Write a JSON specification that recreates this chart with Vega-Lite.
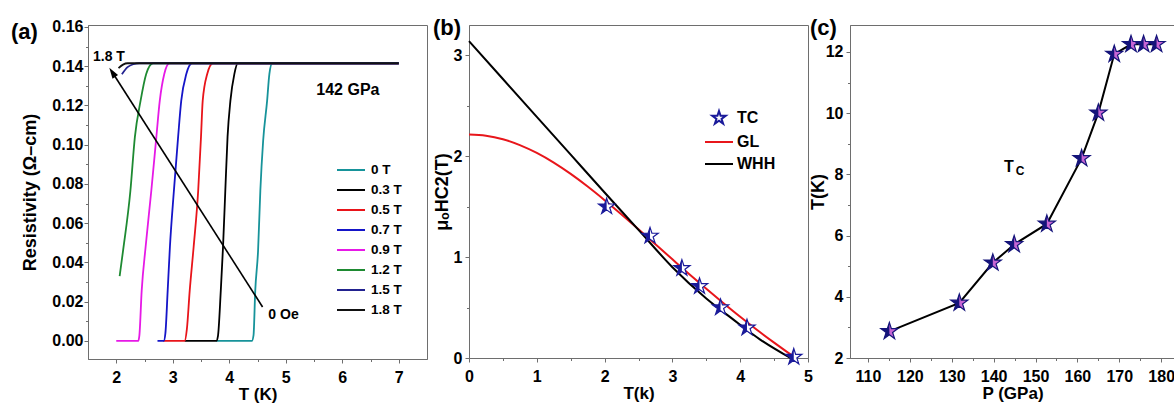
{
  "$schema": "https://vega.github.io/schema/vega-lite/v6.json",
  "background": "white",
  "padding": {"left": 10, "top": 16, "right": 0, "bottom": 0},
  "spacing": 42,
  "bounds": "flush",
  "resolve": {"scale": {"color": "independent", "shape": "independent"}, "legend": {"color": "independent", "shape": "independent"}},
  "config": {
    "font": "Liberation Sans",
    "axis": {"labelFont": "Liberation Sans", "titleFont": "Liberation Sans", "labelFontSize": 16, "labelFontWeight": "bold", "titleFontSize": 18, "titleFontWeight": "bold", "labelColor": "#000", "titleColor": "#000", "domainColor": "#6e6e6e", "tickColor": "#6e6e6e", "tickSize": 4, "labelPadding": 2, "titlePadding": 4, "grid": false, "labelFlush": false, "labelOverlap": false},
    "legend": {"labelFont": "Liberation Sans", "labelColor": "#000"},
    "title": {"font": "Liberation Sans"},
    "view": {"stroke": "#6e6e6e", "strokeWidth": 1}
  },
  "hconcat": [
    {
      "width": 339,
      "height": 334,
      "title": {"text": "(a)", "anchor": "start", "frame": "group", "orient": "top", "offset": -29, "baseline": "alphabetic", "dx": -77, "dy": 13, "fontSize": 22, "fontWeight": "bold", "color": "#000"},
      "resolve": {"axis": {"x": "independent", "y": "independent"}},
      "layer": [
        {
          "data": {"values": [
            {"B": "0 T", "T": 3.77, "R": 0}, {"B": "0 T", "T": 4.40, "R": 0}, {"B": "0 T", "T": 4.43, "R": 0.003}, {"B": "0 T", "T": 4.46, "R": 0.0255}, {"B": "0 T", "T": 4.51, "R": 0.046}, {"B": "0 T", "T": 4.55, "R": 0.0764}, {"B": "0 T", "T": 4.60, "R": 0.102}, {"B": "0 T", "T": 4.67, "R": 0.1223}, {"B": "0 T", "T": 4.71, "R": 0.136}, {"B": "0 T", "T": 4.76, "R": 0.1415}, {"B": "0 T", "T": 7.0, "R": 0.1415},
            {"B": "0.3 T", "T": 3.21, "R": 0}, {"B": "0.3 T", "T": 3.77, "R": 0}, {"B": "0.3 T", "T": 3.80, "R": 0.0025}, {"B": "0.3 T", "T": 3.85, "R": 0.0255}, {"B": "0.3 T", "T": 3.89, "R": 0.048}, {"B": "0.3 T", "T": 3.93, "R": 0.0764}, {"B": "0.3 T", "T": 3.97, "R": 0.104}, {"B": "0.3 T", "T": 4.02, "R": 0.1223}, {"B": "0.3 T", "T": 4.09, "R": 0.136}, {"B": "0.3 T", "T": 4.15, "R": 0.1415}, {"B": "0.3 T", "T": 7.0, "R": 0.1415},
            {"B": "0.5 T", "T": 2.83, "R": 0}, {"B": "0.5 T", "T": 3.21, "R": 0}, {"B": "0.5 T", "T": 3.25, "R": 0.006}, {"B": "0.5 T", "T": 3.30, "R": 0.0255}, {"B": "0.5 T", "T": 3.37, "R": 0.048}, {"B": "0.5 T", "T": 3.45, "R": 0.0764}, {"B": "0.5 T", "T": 3.50, "R": 0.104}, {"B": "0.5 T", "T": 3.53, "R": 0.1223}, {"B": "0.5 T", "T": 3.61, "R": 0.136}, {"B": "0.5 T", "T": 3.71, "R": 0.1415}, {"B": "0.5 T", "T": 7.0, "R": 0.1415},
            {"B": "0.7 T", "T": 2.73, "R": 0}, {"B": "0.7 T", "T": 2.84, "R": 0}, {"B": "0.7 T", "T": 2.87, "R": 0.004}, {"B": "0.7 T", "T": 2.91, "R": 0.0255}, {"B": "0.7 T", "T": 2.95, "R": 0.048}, {"B": "0.7 T", "T": 3.02, "R": 0.0764}, {"B": "0.7 T", "T": 3.095, "R": 0.104}, {"B": "0.7 T", "T": 3.15, "R": 0.1223}, {"B": "0.7 T", "T": 3.24, "R": 0.136}, {"B": "0.7 T", "T": 3.34, "R": 0.1415}, {"B": "0.7 T", "T": 7.0, "R": 0.1415},
            {"B": "0.9 T", "T": 2.00, "R": 0}, {"B": "0.9 T", "T": 2.39, "R": 0}, {"B": "0.9 T", "T": 2.41, "R": 0.003}, {"B": "0.9 T", "T": 2.45, "R": 0.0255}, {"B": "0.9 T", "T": 2.52, "R": 0.048}, {"B": "0.9 T", "T": 2.62, "R": 0.0764}, {"B": "0.9 T", "T": 2.71, "R": 0.104}, {"B": "0.9 T", "T": 2.77, "R": 0.1223}, {"B": "0.9 T", "T": 2.85, "R": 0.136}, {"B": "0.9 T", "T": 2.94, "R": 0.1415}, {"B": "0.9 T", "T": 7.0, "R": 0.1415},
            {"B": "1.2 T", "T": 2.06, "R": 0.033}, {"B": "1.2 T", "T": 2.12, "R": 0.0459}, {"B": "1.2 T", "T": 2.25, "R": 0.0764}, {"B": "1.2 T", "T": 2.33, "R": 0.104}, {"B": "1.2 T", "T": 2.43, "R": 0.1223}, {"B": "1.2 T", "T": 2.53, "R": 0.136}, {"B": "1.2 T", "T": 2.65, "R": 0.1415}, {"B": "1.2 T", "T": 7.0, "R": 0.1415},
            {"B": "1.5 T", "T": 2.10, "R": 0.1359}, {"B": "1.5 T", "T": 2.20, "R": 0.1395}, {"B": "1.5 T", "T": 2.30, "R": 0.141}, {"B": "1.5 T", "T": 2.41, "R": 0.1415}, {"B": "1.5 T", "T": 7.0, "R": 0.1415},
            {"B": "1.8 T", "T": 2.04, "R": 0.139}, {"B": "1.8 T", "T": 2.12, "R": 0.1408}, {"B": "1.8 T", "T": 2.20, "R": 0.1415}, {"B": "1.8 T", "T": 7.0, "R": 0.1415}
          ]},
          "mark": {"type": "line", "strokeWidth": 1.8, "interpolate": "monotone"},
          "encoding": {
            "x": {"field": "T", "type": "quantitative", "scale": {"domain": [1.5, 7.5], "nice": false, "zero": false}, "axis": {"values": [2, 3, 4, 5, 6, 7], "format": "d", "title": "T (K)", "titleFontSize": 17, "labelPadding": 6, "titlePadding": 1}},
            "y": {"field": "R", "type": "quantitative", "scale": {"domain": [-0.0092, 0.161], "nice": false, "zero": false}, "axis": {"values": [0, 0.02, 0.04, 0.06, 0.08, 0.1, 0.12, 0.14, 0.16], "format": ".2f", "title": "Resistivity (Ω–cm)", "labelPadding": 1, "titlePadding": 12}},
            "color": {"field": "B", "type": "nominal",
              "scale": {"domain": ["0 T", "0.3 T", "0.5 T", "0.7 T", "0.9 T", "1.2 T", "1.5 T", "1.8 T"], "range": ["#17939a", "#000000", "#e8141a", "#1515c8", "#e619e6", "#1e8a32", "#22228f", "#111111"]},
              "legend": {"orient": "none", "legendX": 255, "legendY": 137, "title": null, "symbolType": "M-2,0H2", "symbolSize": 196, "symbolStrokeWidth": 2, "labelFontSize": 13.5, "labelFontWeight": "bold", "labelOffset": 12, "rowPadding": 5}}
          }
        },
        {
          "data": {"values": [{"T": 2, "R": 0}]},
          "mark": {"type": "point", "opacity": 0},
          "encoding": {
            "x": {"field": "T", "type": "quantitative", "axis": {"orient": "bottom", "values": [2.5, 3.5, 4.5, 5.5, 6.5], "labels": false, "domain": false, "tickSize": 2.5, "title": null}},
            "y": {"field": "R", "type": "quantitative", "axis": {"orient": "left", "values": [0.01, 0.03, 0.05, 0.07, 0.09, 0.11, 0.13, 0.15], "labels": false, "domain": false, "tickSize": 2.5, "title": null}}
          }
        },
        {
          "data": {"values": [{"T": 4.59, "R": 0.0173, "T2": 1.93, "R2": 0.1369}]},
          "mark": {"type": "rule", "color": "#000", "strokeWidth": 1.6},
          "encoding": {
            "x": {"field": "T", "type": "quantitative", "axis": null},
            "y": {"field": "R", "type": "quantitative", "axis": null},
            "x2": {"field": "T2"},
            "y2": {"field": "R2"}
          }
        },
        {
          "data": {"values": [{"T": 1.93, "R": 0.1369}]},
          "mark": {"type": "point", "shape": "M0,-1L0.6,1L-0.6,1Z", "size": 121, "filled": true, "color": "#000", "opacity": 1, "angle": 327},
          "encoding": {
            "x": {"field": "T", "type": "quantitative", "axis": null},
            "y": {"field": "R", "type": "quantitative", "axis": null}
          }
        },
        {
          "data": {"values": [{"T": 6.10, "R": 0.1279, "label": "142 GPa"}]},
          "mark": {"type": "text", "fontSize": 16, "fontWeight": "bold", "color": "#000", "align": "center", "baseline": "middle"},
          "encoding": {
            "x": {"field": "T", "type": "quantitative", "axis": null},
            "y": {"field": "R", "type": "quantitative", "axis": null},
            "text": {"field": "label"}
          }
        },
        {
          "data": {"values": [{"T": 1.87, "R": 0.1447, "label": "1.8 T"}, {"T": 4.96, "R": 0.0132, "label": "0 Oe"}]},
          "mark": {"type": "text", "fontSize": 14, "fontWeight": "bold", "color": "#000", "align": "center", "baseline": "middle"},
          "encoding": {
            "x": {"field": "T", "type": "quantitative", "axis": null},
            "y": {"field": "R", "type": "quantitative", "axis": null},
            "text": {"field": "label"}
          }
        }
      ]
    },
    {
      "width": 339,
      "height": 333,
      "title": {"text": "(b)", "anchor": "start", "frame": "group", "orient": "top", "offset": -24, "baseline": "alphabetic", "dx": -36, "dy": 8, "fontSize": 22, "fontWeight": "bold", "color": "#000"},
      "resolve": {"axis": {"x": "independent", "y": "independent"}},
      "layer": [
        {
          "data": {"values": [
            {"s": "GL", "T": 0, "H": 2.215}, {"s": "GL", "T": 0.25, "H": 2.203}, {"s": "GL", "T": 0.5, "H": 2.168}, {"s": "GL", "T": 0.75, "H": 2.110}, {"s": "GL", "T": 1.0, "H": 2.032}, {"s": "GL", "T": 1.25, "H": 1.936}, {"s": "GL", "T": 1.5, "H": 1.824}, {"s": "GL", "T": 1.75, "H": 1.699}, {"s": "GL", "T": 2.0, "H": 1.564}, {"s": "GL", "T": 2.25, "H": 1.422}, {"s": "GL", "T": 2.5, "H": 1.276}, {"s": "GL", "T": 2.75, "H": 1.127}, {"s": "GL", "T": 3.0, "H": 0.978}, {"s": "GL", "T": 3.25, "H": 0.830}, {"s": "GL", "T": 3.5, "H": 0.686}, {"s": "GL", "T": 3.75, "H": 0.545}, {"s": "GL", "T": 4.0, "H": 0.408}, {"s": "GL", "T": 4.25, "H": 0.277}, {"s": "GL", "T": 4.5, "H": 0.152}, {"s": "GL", "T": 4.7, "H": 0.056}, {"s": "GL", "T": 4.82, "H": 0},
            {"s": "WHH", "T": 0, "H": 3.14}, {"s": "WHH", "T": 0.5, "H": 2.765}, {"s": "WHH", "T": 1.0, "H": 2.39}, {"s": "WHH", "T": 1.5, "H": 2.015}, {"s": "WHH", "T": 2.0, "H": 1.64}, {"s": "WHH", "T": 2.5, "H": 1.27}, {"s": "WHH", "T": 3.0, "H": 0.90}, {"s": "WHH", "T": 3.5, "H": 0.59}, {"s": "WHH", "T": 3.9, "H": 0.38}, {"s": "WHH", "T": 4.3, "H": 0.18}, {"s": "WHH", "T": 4.74, "H": 0}
          ]},
          "mark": {"type": "line", "strokeWidth": 2, "interpolate": "monotone"},
          "encoding": {
            "x": {"field": "T", "type": "quantitative", "scale": {"domain": [0, 5], "nice": false, "zero": false}, "axis": {"values": [0, 1, 2, 3, 4, 5], "format": "d", "title": "T(k)", "titleFontSize": 17, "labelPadding": 6, "titlePadding": 1}},
            "y": {"field": "H", "type": "quantitative", "scale": {"domain": [0, 3.3], "nice": false, "zero": false}, "axis": {"values": [0, 1, 2, 3], "format": "d", "title": "μₒHC2(T)", "labelPadding": 3, "titlePadding": 2}},
            "color": {"field": "s", "type": "nominal",
              "scale": {"domain": ["TC", "GL", "WHH"], "range": ["#1a1a9a", "#e8161b", "#000000"]},
              "legend": {"orient": "none", "legendX": 242, "legendY": 85, "title": null, "symbolSize": 196, "symbolStrokeWidth": 2, "labelFontSize": 16, "labelFontWeight": "bold", "labelOffset": 10, "rowPadding": 6}}
          }
        },
        {
          "data": {"values": [{"T": 1, "H": 1}]},
          "mark": {"type": "point", "opacity": 0},
          "encoding": {
            "x": {"field": "T", "type": "quantitative", "axis": {"orient": "bottom", "values": [0.5, 1.5, 2.5, 3.5, 4.5], "labels": false, "domain": false, "tickSize": 2.5, "title": null}},
            "y": {"field": "H", "type": "quantitative", "axis": {"orient": "left", "values": [0.5, 1.5, 2.5], "labels": false, "domain": false, "tickSize": 2.5, "title": null}}
          }
        },
        {
          "data": {"values": [
            {"s": "TC", "T": 2.03, "H": 1.50}, {"s": "TC", "T": 2.67, "H": 1.21}, {"s": "TC", "T": 3.14, "H": 0.89}, {"s": "TC", "T": 3.40, "H": 0.71}, {"s": "TC", "T": 3.71, "H": 0.50}, {"s": "TC", "T": 4.10, "H": 0.30}, {"s": "TC", "T": 4.79, "H": 0.01}
          ]},
          "mark": {"type": "point", "filled": false, "fill": "white", "fillOpacity": 1, "size": 290, "strokeWidth": 1.2, "opacity": 1},
          "encoding": {
            "x": {"field": "T", "type": "quantitative", "axis": null},
            "y": {"field": "H", "type": "quantitative", "axis": null},
            "color": {"field": "s", "type": "nominal", "legend": {"orient": "none", "legendX": 242, "legendY": 85, "title": null, "symbolSize": 196, "symbolStrokeWidth": 2, "labelFontSize": 16, "labelFontWeight": "bold", "labelOffset": 10, "rowPadding": 6}},
            "shape": {"field": "s", "type": "nominal", "scale": {"domain": ["TC", "GL", "WHH"], "range": ["M0,-1L0.225,-0.309L0.951,-0.309L0.363,0.118L0.588,0.809L0,0.382L-0.588,0.809L-0.363,0.118L-0.951,-0.309L-0.225,-0.309Z", "M-2,0H2", "M-2,0H2"]}, "legend": {"orient": "none", "legendX": 242, "legendY": 85, "title": null, "symbolSize": 196, "symbolStrokeWidth": 2, "labelFontSize": 16, "labelFontWeight": "bold", "labelOffset": 10, "rowPadding": 6}}
          }
        },
        {
          "data": {"values": [
            {"T": 2.03, "H": 1.50}, {"T": 2.67, "H": 1.21}, {"T": 3.14, "H": 0.89}, {"T": 3.40, "H": 0.71}, {"T": 3.71, "H": 0.50}, {"T": 4.10, "H": 0.30}, {"T": 4.79, "H": 0.01}
          ]},
          "mark": {"type": "point", "shape": "M0,-1L-0.225,-0.309L-0.951,-0.309L-0.363,0.118L-0.588,0.809L0,0.382Z", "filled": true, "color": "#1a1a9a", "size": 290, "opacity": 1},
          "encoding": {
            "x": {"field": "T", "type": "quantitative", "axis": null},
            "y": {"field": "H", "type": "quantitative", "axis": null}
          }
        }
      ]
    },
    {
      "width": 325,
      "height": 333,
      "title": {"text": "(c)", "anchor": "start", "frame": "group", "orient": "top", "offset": -24, "baseline": "alphabetic", "dx": -40, "dy": 8, "fontSize": 22, "fontWeight": "bold", "color": "#000"},
      "resolve": {"axis": {"x": "independent", "y": "independent"}},
      "layer": [
        {
          "data": {"values": [
            {"P": 115.1, "Tk": 2.87}, {"P": 131.8, "Tk": 3.80}, {"P": 139.8, "Tk": 5.11}, {"P": 144.9, "Tk": 5.71}, {"P": 152.7, "Tk": 6.38}, {"P": 161.0, "Tk": 8.52}, {"P": 165.0, "Tk": 10.01}, {"P": 168.8, "Tk": 11.93}, {"P": 172.8, "Tk": 12.25}, {"P": 175.8, "Tk": 12.25}, {"P": 178.9, "Tk": 12.25}
          ]},
          "mark": {"type": "line", "strokeWidth": 2, "color": "#000"},
          "encoding": {
            "x": {"field": "P", "type": "quantitative", "scale": {"domain": [105.7, 183.3], "nice": false, "zero": false}, "axis": {"values": [110, 120, 130, 140, 150, 160, 170, 180], "format": "d", "title": "P (GPa)", "titleFontSize": 17, "labelPadding": 6, "titlePadding": 1}},
            "y": {"field": "Tk", "type": "quantitative", "scale": {"domain": [2, 12.88], "nice": false, "zero": false}, "axis": {"values": [2, 4, 6, 8, 10, 12], "format": "d", "title": "T(K)", "labelPadding": 3, "titlePadding": -2}}
          }
        },
        {
          "data": {"values": [{"P": 120, "Tk": 4}]},
          "mark": {"type": "point", "opacity": 0},
          "encoding": {
            "x": {"field": "P", "type": "quantitative", "axis": {"orient": "bottom", "values": [115, 125, 135, 145, 155, 165, 175], "labels": false, "domain": false, "tickSize": 2.5, "title": null}},
            "y": {"field": "Tk", "type": "quantitative", "axis": {"orient": "left", "values": [3, 5, 7, 9, 11], "labels": false, "domain": false, "tickSize": 2.5, "title": null}}
          }
        },
        {
          "data": {"values": [
            {"P": 115.1, "Tk": 2.87}, {"P": 131.8, "Tk": 3.80}, {"P": 139.8, "Tk": 5.11}, {"P": 144.9, "Tk": 5.71}, {"P": 152.7, "Tk": 6.38}, {"P": 161.0, "Tk": 8.52}, {"P": 165.0, "Tk": 10.01}, {"P": 168.8, "Tk": 11.93}, {"P": 172.8, "Tk": 12.25}, {"P": 175.8, "Tk": 12.25}, {"P": 178.9, "Tk": 12.25}
          ]},
          "mark": {"type": "point", "shape": "M0,-1L0.225,-0.309L0.951,-0.309L0.363,0.118L0.588,0.809L0,0.382L-0.588,0.809L-0.363,0.118L-0.951,-0.309L-0.225,-0.309Z", "filled": true, "fill": "#c765d4", "stroke": "#14147a", "strokeWidth": 1.2, "size": 320, "opacity": 1},
          "encoding": {
            "x": {"field": "P", "type": "quantitative", "axis": null},
            "y": {"field": "Tk", "type": "quantitative", "axis": null}
          }
        },
        {
          "data": {"values": [
            {"P": 115.1, "Tk": 2.87}, {"P": 131.8, "Tk": 3.80}, {"P": 139.8, "Tk": 5.11}, {"P": 144.9, "Tk": 5.71}, {"P": 152.7, "Tk": 6.38}, {"P": 161.0, "Tk": 8.52}, {"P": 165.0, "Tk": 10.01}, {"P": 168.8, "Tk": 11.93}, {"P": 172.8, "Tk": 12.25}, {"P": 175.8, "Tk": 12.25}, {"P": 178.9, "Tk": 12.25}
          ]},
          "mark": {"type": "point", "shape": "M0,-1L-0.225,-0.309L-0.951,-0.309L-0.363,0.118L-0.588,0.809L0,0.382Z", "filled": true, "color": "#14147a", "size": 320, "opacity": 1},
          "encoding": {
            "x": {"field": "P", "type": "quantitative", "axis": null},
            "y": {"field": "Tk", "type": "quantitative", "axis": null}
          }
        },
        {
          "data": {"values": [{"P": 143.65, "Tk": 8.24, "label": "T"}]},
          "mark": {"type": "text", "fontSize": 16, "fontWeight": "bold", "color": "#000", "align": "center", "baseline": "middle"},
          "encoding": {
            "x": {"field": "P", "type": "quantitative", "axis": null},
            "y": {"field": "Tk", "type": "quantitative", "axis": null},
            "text": {"field": "label"}
          }
        },
        {
          "data": {"values": [{"P": 146.3, "Tk": 8.12, "label": "C"}]},
          "mark": {"type": "text", "fontSize": 12, "fontWeight": "bold", "color": "#000", "align": "center", "baseline": "middle"},
          "encoding": {
            "x": {"field": "P", "type": "quantitative", "axis": null},
            "y": {"field": "Tk", "type": "quantitative", "axis": null},
            "text": {"field": "label"}
          }
        }
      ]
    }
  ]
}
